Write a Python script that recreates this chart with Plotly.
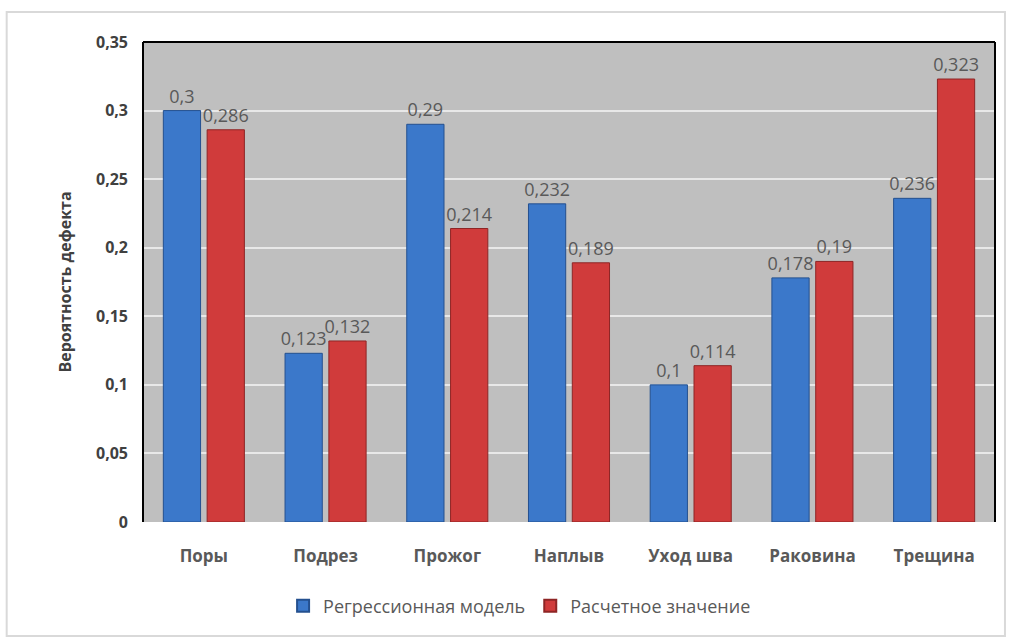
import plotly.graph_objects as go

categories = ["Поры", "Подрез", "Прожог", "Наплыв", "Уход шва", "Раковина", "Трещина"]
regression = [0.3, 0.123, 0.29, 0.232, 0.1, 0.178, 0.236]
calculated = [0.286, 0.132, 0.214, 0.189, 0.114, 0.19, 0.323]
tick_vals = [0, 0.05, 0.1, 0.15, 0.2, 0.25, 0.3, 0.35]
tick_text = ["0", "0,05", "0,1", "0,15", "0,2", "0,25", "0,3", "0,35"]


def fmt(v):
    return ("%g" % v).replace(".", ",")


label_font = dict(size=18, color="#595959", family="Open Sans")

fig = go.Figure()
fig.add_trace(go.Bar(
    x=categories, y=regression, name="Регрессионная модель",
    marker=dict(color="#3B78CA", line=dict(color="#24508F", width=1)),
    text=[fmt(v) for v in regression], textposition="outside",
    textfont=label_font, outsidetextfont=label_font,
    constraintext="none", textangle=0, cliponaxis=False,
))
fig.add_trace(go.Bar(
    x=categories, y=calculated, name="Расчетное значение",
    marker=dict(color="#D03B3B", line=dict(color="#8E2525", width=1)),
    text=[fmt(v) for v in calculated], textposition="outside",
    textfont=label_font, outsidetextfont=label_font,
    constraintext="none", textangle=0, cliponaxis=False,
))

fig.update_layout(
    width=1009, height=638,
    margin=dict(l=143, r=14, t=42, b=116),
    paper_bgcolor="white", plot_bgcolor="#BFBFBF",
    barmode="group", bargap=0.28, bargroupgap=0.15,
    font=dict(family="Open Sans", color="#595959"),
    showlegend=True,
    legend=dict(orientation="h", x=0.442, xanchor="center", y=-0.175, yanchor="middle",
                font=dict(size=18, color="#595959"), itemwidth=30, itemsizing="constant"),
    xaxis=dict(
        tickfont=dict(size=17, color="#595959", family="Open Sans", weight="bold"),
        showline=False, ticks="", ticklabelstandoff=22,
    ),
    yaxis=dict(
        range=[0, 0.35], tickvals=tick_vals, ticktext=tick_text,
        tickfont=dict(size=16, color="#404040", family="Open Sans", weight="bold"),
        gridcolor="#E8E8E8", gridwidth=2, zeroline=False,
        showline=False, ticks="", ticklabelstandoff=14,
        title=dict(text="Вероятность дефекта", standoff=20,
                   font=dict(size=16, color="#404040", family="Open Sans", weight="bold")),
    ),
    shapes=[
        dict(type="rect", xref="paper", yref="paper", x0=-0.16, x1=1.0117, y0=-0.2375, y1=1.0625,
             line=dict(color="#D9D9D9", width=2), fillcolor="rgba(0,0,0,0)", layer="below"),
        dict(type="line", xref="paper", yref="paper", x0=0, x1=0, y0=0, y1=1,
             line=dict(color="black", width=2)),
        dict(type="line", xref="paper", yref="paper", x0=0, x1=1, y0=1, y1=1,
             line=dict(color="black", width=2)),
        dict(type="line", xref="paper", yref="paper", x0=1, x1=1, y0=0, y1=1,
             line=dict(color="black", width=2)),
    ],
)

fig.write_html("out.html")
